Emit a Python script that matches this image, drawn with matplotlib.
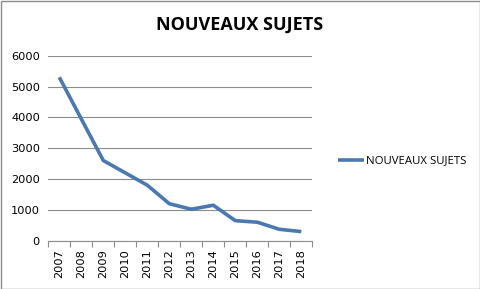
import matplotlib
matplotlib.use("Agg")
import matplotlib.pyplot as plt
from matplotlib.patches import Rectangle

years = ["2007", "2008", "2009", "2010", "2011", "2012", "2013", "2014", "2015", "2016", "2017", "2018"]
values = [5300, 3950, 2600, 2200, 1800, 1200, 1020, 1150, 650, 600, 370, 295]
series_name = "NOUVEAUX SUJETS"
title = "NOUVEAUX SUJETS"

W, H = 481, 289
fig = plt.figure(figsize=(W / 100, H / 100), dpi=100)
fig.patches.append(Rectangle((0.5 / W, 0.5 / H), 1 - 1.5 / W, 1 - 1.5 / H, transform=fig.transFigure,
                             fill=False, edgecolor="#8c8c8c", linewidth=1))

left, right, top, bottom = 48.3, 312.3, 55.7, 240.7
ax = fig.add_axes([left / W, 1 - bottom / H, (right - left) / W, (bottom - top) / H])

color = "#4a78b0"
x = list(range(len(years)))
line, = ax.plot(x, values, color=color, linewidth=2.6, solid_capstyle="butt", label=series_name)

ax.set_xlim(-0.5, len(years) - 0.5)
ax.set_ylim(0, 6000)
ax.set_yticks(range(0, 6001, 1000))
ax.set_yticklabels([str(v) for v in range(0, 6001, 1000)], fontsize=8.2, family="DejaVu Sans", color="#000000")
ax.yaxis.grid(True, color="#8c8c8c", linewidth=0.8)
ax.set_axisbelow(True)
ax.tick_params(axis="y", length=0, pad=6)

ax.set_xticks(x)
ax.set_xticklabels(years, rotation=90, fontsize=8.2, family="DejaVu Sans")
ax.set_xticks([i - 0.5 for i in range(len(years) + 1)], minor=True)
ax.tick_params(axis="x", which="major", length=0, pad=6)
ax.tick_params(axis="x", which="minor", length=4, color="#8c8c8c", width=0.8)
for s in ["left", "right", "top"]:
    ax.spines[s].set_visible(False)
ax.spines["bottom"].set_color("#8c8c8c")
ax.spines["bottom"].set_linewidth(0.8)

fig.text(240 / W, 1 - 25 / H, title, ha="center", va="center", fontsize=13, fontweight="bold",
         family="Open Sans")

fig.legend(handles=[line], labels=[series_name], loc="center left",
           bbox_to_anchor=(328 / W, 1 - 161 / H), frameon=False,
           handlelength=2.3, handletextpad=0.1, prop={"family": "Open Sans", "size": 8.2})

fig.savefig("out.png", dpi=100)
